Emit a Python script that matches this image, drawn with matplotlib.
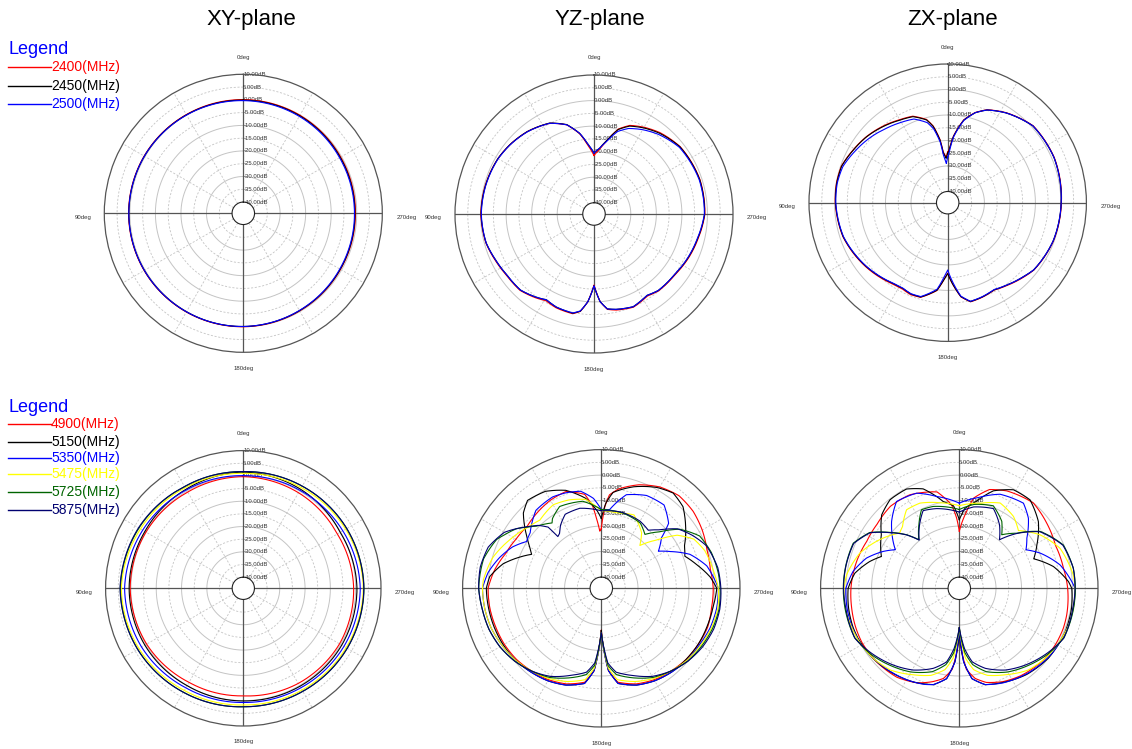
import matplotlib.pyplot as plt
import numpy as np
from matplotlib.lines import Line2D

plt.rcParams['font.family'] = ['Liberation Sans', 'DejaVu Sans']

W, H = 1132, 749

# ---- band 1 (2.4 GHz) ----
freqs_1 = ['2400(MHz)', '2450(MHz)', '2500(MHz)']
colors_1 = ['#ff0000', '#000000', '#0000ff']

xy1_deg = [0, 30, 60, 90, 120, 150, 180, 210, 240, 270, 300, 330, 360]
xy1_red = [0.1, 0.2, 0.4, 0.5, 0.4, 0.2, 0.0, -0.3, -0.5, -0.5, -0.4, -0.1, 0.1]
xy1_black = [-0.1, 0.1, 0.3, 0.4, 0.3, 0.1, -0.1, -0.4, -0.6, -0.7, -0.6, -0.3, -0.1]
xy1_blue = [-0.3, 0.0, 0.3, 0.4, 0.3, 0.1, -0.1, -0.5, -0.8, -0.9, -0.9, -0.6, -0.3]

yz1_deg = [0, 5, 10, 17, 26, 39, 50, 60, 75, 90, 105, 115, 125, 136, 145, 151, 158, 168,
           172, 176, 180, 184, 188, 193, 203, 213, 220, 233, 245, 256, 270, 288, 308, 321,
           330, 338, 344, 350, 355, 360]
yz1_black = [-20.5, -17, -12.4, -7.8, -4.8, -2.9, -1.8, -1, -0.5, -0.2, -0.7, -1.9, -2.8, -3,
             -4.7, -6, -5.1, -4.7, -6, -10, -16.3, -10, -6.9, -6.1, -5, -6.4, -5.3, -5, -3.8,
             -2.8, -1.1, -0.9, -1.7, -3.7, -5.5, -7.3, -10, -15.1, -18.5, -20.5]
yz1_red = [-21.5, -17.5, -12.6, -7.9, -4.9, -2.9, -1.8, -1, -0.4, -0.1, -0.6, -1.7, -2.6, -2.8,
           -4.4, -5.6, -4.8, -4.5, -5.9, -10, -16.6, -10, -6.7, -5.8, -4.8, -6.1, -5.1, -4.8,
           -3.6, -2.6, -1.0, -0.8, -1.6, -3.4, -5.2, -7.0, -9.8, -15.3, -19, -21.5]
yz1_blue = [-20.5, -17, -12.4, -7.9, -4.9, -3.0, -1.9, -1.1, -0.6, -0.3, -0.7, -1.9, -2.8, -3,
            -4.7, -6, -5.1, -4.8, -6.1, -10, -16.3, -10, -6.9, -6.1, -5, -6.4, -5.3, -5, -3.9,
            -2.9, -1.2, -1.1, -2.0, -4.3, -6.3, -8.3, -10.8, -15.5, -18.5, -20.5]

zx1_deg = [0, 2, 5, 7, 10.7, 14.3, 22, 30, 40, 51, 61, 71, 80, 90, 108, 128, 146, 152, 158,
           164, 173, 177, 180, 183, 188, 193, 200, 208, 216, 225, 232, 250, 270, 293, 312,
           327, 337, 343, 349, 355, 358.5, 360]
zx1_black = [-25, -27, -24.8, -19.6, -14, -10.9, -8, -7, -5.3, -3.4, -2, -0.4, -0.2, -0.4,
             -1.3, -3.8, -6.2, -6.5, -5.8, -5.9, -9.8, -14, -16.6, -13, -7.2, -4.6, -5,
             -5.7, -4.6, -3, -1.6, -0.4, 0.1, 0.9, 0.6, -2.4, -4.9, -7.5, -11.4, -18.3, -24, -25]
zx1_red = [-24.5, -26.5, -24.5, -19.4, -13.8, -10.7, -7.8, -6.8, -5.1, -3.3, -1.9, -0.3, -0.1,
           -0.3, -1.2, -3.6, -5.9, -6.2, -5.5, -5.8, -9.7, -14, -16.8, -13, -7.1, -4.5, -4.9,
           -5.6, -4.4, -2.8, -1.5, -0.3, 0.2, 1.0, 0.7, -2.3, -4.8, -7.4, -11.3, -18.1, -23.8, -24.5]
zx1_blue = [-26.5, -29, -26, -20.5, -15, -12, -9, -8, -6.5, -4.5, -2.8, -0.9, -0.4, -0.5,
            -1.4, -3.9, -6.3, -6.6, -5.9, -6.1, -10.2, -15, -18, -14, -7.4, -4.7, -5.1,
            -5.8, -4.6, -3, -1.6, -0.4, 0.1, 0.9, 0.6, -2.4, -4.9, -7.5, -11.6, -18.6, -25, -26.5]

# ---- band 2 (5 GHz) ----
freqs_2 = ['4900(MHz)', '5150(MHz)', '5350(MHz)', '5475(MHz)', '5725(MHz)', '5875(MHz)']
colors_2 = ['#ff0000', '#000000', '#0000ff', '#ffff00', '#006400', '#000070']

xy2_deg = [0, 30, 60, 90, 120, 150, 180, 210, 240, 270, 300, 330, 360]
xy2_red = [-0.3, -0.5, 0.0, 0.3, -0.3, -1.5, -1.9, -1.0, -0.5, -0.8, -1.5, -0.8, -0.3]
xy2_black = [1.5, 0.8, 0.5, 0.7, 0.5, 0.0, 0.1, 0.3, 0.5, 0.5, -0.2, 0.8, 1.5]
xy2_blue = [0.1, 0.5, 1.5, 2.5, 2.0, 1.0, 0.7, 1.0, 1.5, 1.8, 1.0, 0.3, 0.1]
xy2_yellow = [1.0, 1.5, 2.5, 3.8, 3.2, 2.2, 1.7, 2.0, 2.5, 3.0, 2.3, 1.5, 1.0]
xy2_green = [1.7, 2.0, 3.2, 4.2, 3.8, 3.0, 2.4, 2.6, 3.0, 3.3, 2.8, 2.2, 1.7]
xy2_navy = [1.7, 2.0, 3.4, 4.3, 3.8, 3.0, 2.4, 2.6, 3.0, 3.2, 2.8, 2.2, 1.7]

yz2_red_deg = [0, 1.5, 4, 6, 10, 20, 30, 40, 50, 60, 70, 80, 90, 100, 110, 120, 130, 140, 150,
               160, 170, 175, 180, 185, 190, 200, 210, 220, 230, 240, 250, 260, 270, 280, 290,
               300, 310, 320, 330, 340, 350, 355, 357.5, 360]
yz2_red = [-21, -22, -16.8, -12, -7, -4, -4.5, -5.5, -6.5, -5.8, -4.5, -2, 0, 0, -0.3, -0.5,
           -1, -2, -3, -4.5, -7, -12, -28, -12, -7, -4.5, -3, -2, -1, -0.5, 0, -0.5, -0.5,
           -1, -0.3, 1.3, 2.6, 3, 1.5, -1.2, -4.8, -7.6, -12.3, -21]
yz2_black_deg = [0, 3, 10, 20, 30, 40, 46, 55, 60, 64, 69, 76, 84, 90, 100, 110, 120, 130, 140,
                 150, 160, 170, 175, 180, 185, 190, 200, 210, 220, 230, 240, 250, 260, 270, 276,
                 284, 291, 297, 306, 315, 323, 331, 342, 353, 357, 360]
yz2_black = [-17, -14, -8.5, -3.5, -0.5, 0.6, -1.9, -8.7, -12, -14, -10.2, -4.7, -0.4, 0.7,
             0.5, 0.3, 0, -0.5, -1.5, -2.5, -4, -6.5, -12, -28, -12, -6.5, -4, -2.5, -1.5, -1,
             -0.5, -0.3, 0, 0.9, -1.5, -5.9, -9.3, -7.8, -3.5, 0.9, 2.4, 0.8, -2.5, -6.5, -11, -17]
yz2_blue_deg = [0, 5, 12, 20, 28, 40, 52, 58, 65, 73, 82, 90, 100, 110, 120, 130, 140, 150, 160,
                170, 175, 180, 185, 190, 200, 210, 220, 230, 240, 250, 260, 270, 282, 291, 298,
                303, 310, 314, 323, 334, 345, 354, 360]
yz2_blue = [-13.5, -9, -5.5, -4.5, -3.8, -4.5, -9, -9.8, -6, -2.8, 0.4, 2.2, 2, 1.5, 0.5, -0.5,
            -1.5, -2.5, -4, -6.5, -12, -27, -12, -6.5, -4, -2.5, -1.5, -0.5, 0, 1, 1.5, 1.5,
            -2.1, -7.2, -13.7, -17.7, -13.6, -7.7, -3.5, -3.9, -6.4, -13.4, -13.5]
yz2_yellow_deg = [0, 10, 20, 30, 42, 50, 62, 74, 86, 90, 100, 110, 120, 130, 140, 150, 160, 170,
                  175, 180, 185, 190, 200, 210, 220, 230, 240, 250, 260, 270, 279, 290, 298, 305,
                  311, 318, 324, 336, 348, 360]
yz2_yellow = [-14, -9, -7.5, -6.6, -8.4, -7, -3.8, -0.2, 2, 2.2, 2, 1.5, 0.5, -0.5, -2, -3.5,
              -5.5, -8, -13, -27, -13, -8, -5.5, -3.5, -2, -0.5, 0.5, 1.5, 2, 1.5, 0.1, -1.2,
              -3.3, -8.1, -15.5, -21.8, -17.5, -12.9, -14.2, -14]
yz2_green_deg = [0, 12, 27, 35, 37, 46, 50, 55, 60, 65, 76, 90, 100, 110, 120, 130, 140, 150,
                 160, 170, 175, 180, 185, 190, 200, 210, 220, 230, 240, 250, 260, 270, 277, 288,
                 298, 307, 314, 321, 329, 344, 360]
yz2_green = [-13.5, -9.5, -8.4, -11, -12.3, -9.3, -7, -3.7, -1.5, 0.9, 3.2, 3.7, 3, 2.5, 1.5, 0,
             -2, -4, -7, -10, -14, -27, -14, -10, -7, -4, -2, 0, 1, 2, 2.5, 2.2, 1.9, 1, -0.7,
             -5.9, -12.5, -17.2, -14.6, -13.7, -13.5]
yz2_navy_deg = [0, 15, 26, 33, 37, 40, 41, 45, 50, 60, 70, 80, 90, 100, 110, 120, 130, 140, 150,
                160, 170, 175, 180, 185, 190, 200, 210, 220, 230, 240, 250, 260, 270, 280, 292,
                300, 308, 315, 321, 330, 345, 360]
yz2_navy = [-14, -11.9, -12.1, -15, -17.3, -17.9, -12.6, -9.5, -6.8, -0.5, 2.8, 3.8, 3.7, 3,
            2.5, 1.5, 0, -2, -4.5, -8, -11, -15, -27, -15, -11, -8, -4.5, -2, 0, 1.5, 2.5,
            2.8, 2.5, 2, 0.1, -3, -6.5, -12, -15.1, -14, -13.5, -14]

zx2_red_deg = [0, 2.2, 5.3, 13, 28, 40, 52, 63, 75, 90, 100, 110, 119, 132, 145, 156, 164, 170,
               175, 178, 180, 182, 185, 190, 196, 205, 215, 230, 240, 249, 256, 270, 281, 294,
               307, 319, 334, 343, 351, 354.5, 358, 360]
zx2_red = [-22, -16.8, -11.5, -5.6, -2.9, -2.4, -3.5, -3.7, -2.8, -1.9, -1.5, -1, -0.7, -1,
           -1.8, -3.8, -6.3, -8.5, -12.5, -20, -29, -20, -12.5, -8.5, -6, -4, -2.5, -1, -0.7,
           -0.7, -1, -1.9, -2.8, -3.1, -1.6, -0.1, -1.9, -3.9, -8.6, -14, -19, -22]
zx2_black_deg = [0, 4, 10.5, 20, 28, 38, 46.6, 55.5, 67.8, 73.4, 81.8, 90, 100, 110, 116, 129,
                 142, 154, 165, 172, 176.6, 179, 180, 181, 183.4, 188, 195, 206, 218, 232, 248,
                 260, 270, 273.5, 283, 291.6, 299.3, 310.2, 321.3, 331.2, 340.7, 349, 356, 360]
zx2_black = [-17.5, -12, -9.8, -2.9, -0.3, -0.3, -2.5, -7.3, -11.4, -7.7, -3, -0.8, -0.3, 0,
             -0.1, -0.8, -2.1, -3.5, -5.3, -8.6, -15.5, -23, -29, -23, -15.5, -8.6, -5.3, -3.5,
             -1.5, 0, 0.5, 0.3, -0.3, -1.5, -6.5, -13, -9.5, -3.8, 0, -0.3, -3.9, -9.7, -13, -17.5]
zx2_blue_deg = [0, 13.9, 24.2, 35.9, 45.4, 54.7, 58.9, 64.2, 72, 81, 90, 100, 110, 120, 130, 140,
                150, 160, 165, 172, 176.6, 180, 183.4, 188, 195, 205, 220, 235, 250, 262, 270,
                273.4, 283, 293.5, 300, 306.6, 315.4, 323, 336.6, 348, 360]
zx2_blue = [-11, -7.3, -3.5, -2.4, -7.1, -12.6, -15.1, -11.2, -6.1, -2.2, 0.1, 0.3, 0.3, 0, -1,
            -2, -3, -4.3, -5.3, -8.6, -15.5, -29, -15.5, -8.6, -5.3, -3.5, -1.5, 0, 0.8, 1, 1,
            -0.2, -3.8, -9.8, -14.2, -11.4, -5.8, -2.6, -4.2, -8, -11]
zx2_yellow_deg = [0, 12.8, 24.8, 33.9, 42.6, 47.2, 58.6, 70.6, 83, 90, 100, 110, 120, 130, 140,
                  152, 162, 170, 175, 180, 185, 190, 198, 208, 220, 230, 240, 250, 260, 270,
                  276.7, 291.7, 303.5, 314.3, 323, 334.4, 346, 360]
zx2_yellow = [-12, -10, -7.6, -7.3, -11.5, -12.5, -7.8, -3, 0.1, 0.8, 1, 0.5, 0, -1, -2.5, -6,
              -8.5, -12, -17, -29, -17, -12, -8.5, -6, -2.5, -1, 0, 0.8, 1, 1, 0.6, -1.9, -6.4,
              -12, -9.1, -7.3, -10, -12]
zx2_green_deg = [0, 17.7, 25.7, 32.5, 39.8, 44.6, 51.2, 58.1, 67, 78.4, 90, 100, 115, 127, 139,
                 150, 162, 170, 175, 180, 185, 190, 198, 210, 221, 233, 245, 260, 270, 280,
                 292.6, 305.1, 313.8, 321.6, 327.6, 337.6, 350, 360]
zx2_green = [-13.5, -10.7, -10.2, -14.9, -19.6, -14.9, -9.4, -3, 0.8, 1, 1.1, 1.1, 1, -1.2, -4,
             -6.5, -10, -14, -19, -29, -19, -14, -10, -6.5, -4, -1.2, 1, 1.1, 1.1, 1, -0.2,
             -5.6, -13.2, -17.6, -13.3, -9.4, -11, -13.5]
zx2_navy_deg = [0, 15.9, 25, 32, 39.8, 44.6, 51.2, 58.1, 67, 78.4, 90, 100, 115.6, 126.6, 139.3,
                150.6, 162, 170.2, 175, 180, 185, 190, 198, 209.4, 220.7, 233.4, 244.4, 260,
                270, 280, 292.6, 305.1, 313.8, 320.4, 327.7, 336.8, 350, 360]
zx2_navy = [-14.5, -11.9, -10.8, -15, -19.8, -15, -9.6, -3.2, 0.6, 0.9, 1, 0.8, 1, -1.6, -4.7,
            -7.6, -11.4, -15.1, -20.6, -29, -20.6, -15.1, -11.4, -7.6, -4.7, -1.6, 1, 0.8, 1,
            1, -0.4, -5.8, -13.4, -19.7, -14.9, -10.4, -12, -14.5]

ring_levels = [10, 5, 0, -5, -10, -15, -20, -25, -30, -35, -40]


def polar_panel(fig, cx, cy, R):
    ax = fig.add_axes([(cx - R) / W, 1 - (cy + R) / H, 2 * R / W, 2 * R / H],
                      projection='polar')
    ax.set_theta_zero_location('N')
    ax.set_theta_direction(1)
    ax.set_ylim(-40, 10)
    ax.set_rorigin(-44.4)
    ax.grid(False)
    ax.set_xticks([])
    ax.set_yticks([])
    ax.spines['polar'].set_color('#555555')
    ax.spines['polar'].set_linewidth(0.9)
    ax.spines['inner'].set_color('#222222')
    ax.spines['inner'].set_linewidth(0.8)

    tt = np.linspace(0, 2 * np.pi, 361)
    for lvl in ring_levels[1:-1]:
        if lvl % 10 == 0:
            ax.plot(tt, np.full_like(tt, lvl), color='#c4c4c4', lw=0.7, zorder=1)
        else:
            ax.plot(tt, np.full_like(tt, lvl), color='#c4c4c4', lw=0.6,
                    ls=(0, (2.5, 2)), zorder=1)
    for a in range(0, 360, 30):
        t = np.deg2rad(a)
        if a % 90 == 0:
            ax.plot([t, t], [-40, 10], color='#555555', lw=0.9, zorder=1)
        else:
            ax.plot([t, t], [-40, 10], color='#c4c4c4', lw=0.6, ls=(0, (2.5, 2)), zorder=1)

    for lvl in ring_levels:
        ax.text(0, lvl, f'{lvl:.2f}dB', ha='left', va='center', fontsize=4.3,
                color='#333333', zorder=2)

    off = lambda px: px / (2 * R)
    ax.text(0.5, 1 + off(17), '0deg', transform=ax.transAxes, ha='center', va='center',
            fontsize=4.3, color='#333333')
    ax.text(0.5, -off(16), '180deg', transform=ax.transAxes, ha='center', va='center',
            fontsize=4.3, color='#333333')
    ax.text(-off(13), 0.5 - off(4), '90deg', transform=ax.transAxes, ha='right', va='center',
            fontsize=4.3, color='#333333')
    ax.text(1 + off(14), 0.5 - off(4), '270deg', transform=ax.transAxes, ha='left',
            va='center', fontsize=4.3, color='#333333')
    return ax


def draw_curves(ax, series, colors):
    for (deg, vals), c in zip(series, colors):
        line, = ax.plot(np.deg2rad(deg), vals, color=c, lw=0.8, zorder=3)
        # follow the polar grid between samples instead of straight chords
        line.get_path()._interpolation_steps = 40


def draw_legend(fig, y_title, y_rows, labels, colors):
    fig.text(8 / W, 1 - y_title / H, 'Legend', color='#0000ff', fontsize=13,
             ha='left', va='center')
    for y, lab, c in zip(y_rows, labels, colors):
        fig.add_artist(Line2D([8 / W, 51 / W], [1 - y / H, 1 - y / H], color=c, lw=1,
                              transform=fig.transFigure))
        fig.text(51 / W, 1 - y / H, lab, color=c, fontsize=10, ha='left', va='center')


fig = plt.figure(figsize=(W / 100, H / 100), dpi=100)

for x, t in [(251, 'XY-plane'), (600, 'YZ-plane'), (953, 'ZX-plane')]:
    fig.text(x / W, 1 - 20 / H, t, fontsize=16, ha='center', va='center')

ax = polar_panel(fig, 243.3, 213.3, 139)
draw_curves(ax, [(xy1_deg, xy1_red), (xy1_deg, xy1_black), (xy1_deg, xy1_blue)], colors_1)
ax = polar_panel(fig, 594, 214, 139)
draw_curves(ax, [(yz1_deg, yz1_red), (yz1_deg, yz1_black), (yz1_deg, yz1_blue)], colors_1)
ax = polar_panel(fig, 947.7, 202.7, 138.7)
draw_curves(ax, [(zx1_deg, zx1_red), (zx1_deg, zx1_black), (zx1_deg, zx1_blue)], colors_1)

ax = polar_panel(fig, 243.3, 588.3, 137.7)
draw_curves(ax, [(xy2_deg, xy2_red), (xy2_deg, xy2_black), (xy2_deg, xy2_blue),
                 (xy2_deg, xy2_yellow), (xy2_deg, xy2_green), (xy2_deg, xy2_navy)], colors_2)
ax = polar_panel(fig, 601.3, 588.3, 138.7)
draw_curves(ax, [(yz2_red_deg, yz2_red), (yz2_black_deg, yz2_black),
                 (yz2_blue_deg, yz2_blue), (yz2_yellow_deg, yz2_yellow),
                 (yz2_green_deg, yz2_green), (yz2_navy_deg, yz2_navy)], colors_2)
ax = polar_panel(fig, 959.3, 588.3, 138.7)
draw_curves(ax, [(zx2_red_deg, zx2_red), (zx2_black_deg, zx2_black),
                 (zx2_blue_deg, zx2_blue), (zx2_yellow_deg, zx2_yellow),
                 (zx2_green_deg, zx2_green), (zx2_navy_deg, zx2_navy)], colors_2)

draw_legend(fig, 49, [67, 86, 104], freqs_1, colors_1)
draw_legend(fig, 407.7, [424.3, 441.7, 457.7, 474.3, 492.3, 510], freqs_2, colors_2)

fig.savefig('out.png', dpi=100)
